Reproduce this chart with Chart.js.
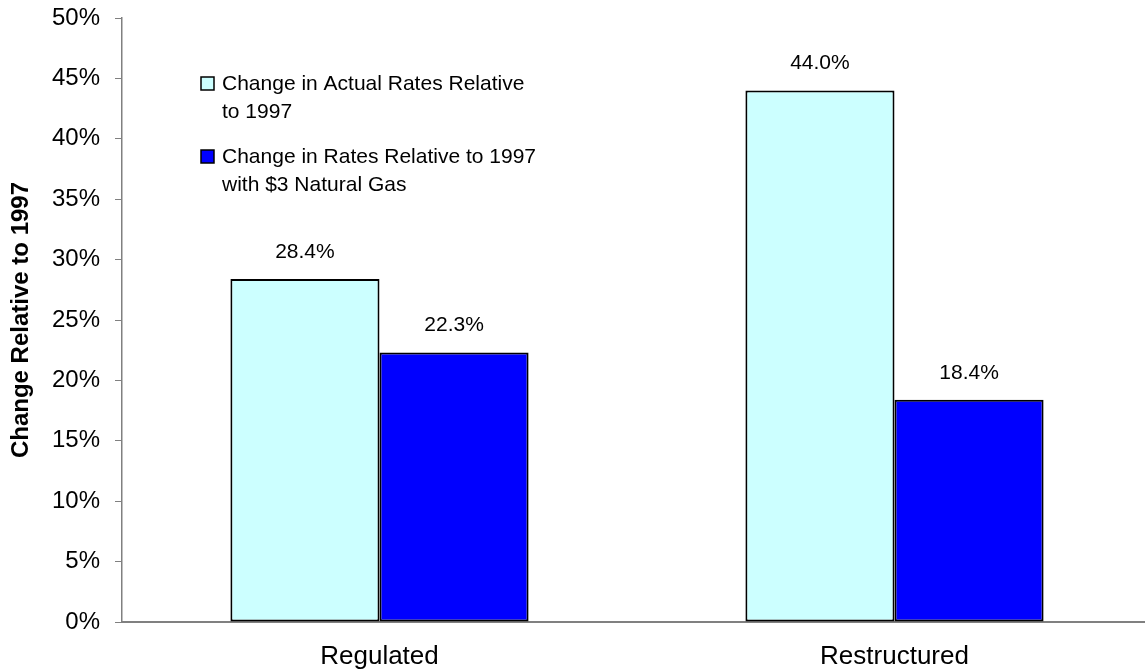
<!DOCTYPE html>
<html>
<head>
<meta charset="utf-8">
<script src="https://cdn.jsdelivr.net/npm/chart.js@4.4.1/dist/chart.umd.min.js"></script>
<style>
  html, body { margin: 0; padding: 0; background: #fff; overflow: hidden; }
  #wrap { width: 1152px; height: 670px; }
</style>
</head>
<body>
<div id="wrap"><canvas id="grafico"></canvas></div>
<script>
// datos del gráfico
const categorias = ['Regulated', 'Restructured'];
const cambioReal = [28.4, 44.0];
const cambioGas3 = [22.3, 18.4];
const etiquetasSerie = [
    ['Change in Actual Rates Relative', 'to 1997'],
    ['Change in Rates Relative to 1997', 'with $3 Natural Gas']
];
const ticksY = [0, 5, 10, 15, 20, 25, 30, 35, 40, 45, 50];

const fuente = 'Liberation Sans, Arial, sans-serif';

// etiquetas encima de cada barra
const etiquetasBarras = {
    id: 'etiquetasBarras',
    afterDatasetsDraw(chart) {
        const ctx = chart.ctx;
        ctx.save();
        ctx.font = '21px ' + fuente;
        ctx.fillStyle = '#000';
        ctx.textAlign = 'center';
        ctx.textBaseline = 'middle';
        chart.data.datasets.forEach((ds, i) => {
            chart.getDatasetMeta(i).data.forEach((bar, j) => {
                ctx.fillText(ds.data[j].toFixed(1) + '%', bar.x, bar.y - 27);
            });
        });
        ctx.restore();
    }
};

// leyenda con texto en dos líneas
const leyenda = {
    id: 'leyenda',
    afterDraw(chart) {
        const ctx = chart.ctx;
        ctx.save();
        ctx.font = '21px ' + fuente;
        ctx.textBaseline = 'middle';
        let y = 84;
        chart.data.datasets.forEach((ds) => {
            ctx.fillStyle = ds.backgroundColor;
            ctx.fillRect(201, y - 7, 13, 13);
            ctx.strokeStyle = '#000';
            ctx.lineWidth = 1.5;
            ctx.strokeRect(201, y - 7, 13, 13);
            ctx.fillStyle = '#000';
            ds.lineas.forEach((linea, k) => {
                ctx.fillText(linea, 222, y + k * 28);
            });
            y += 73;
        });
        ctx.restore();
    }
};

new Chart(document.getElementById('grafico'), {
    type: 'bar',
    data: {
        labels: categorias,
        datasets: [{
            label: etiquetasSerie[0].join(' '),
            lineas: etiquetasSerie[0],
            data: cambioReal,
            backgroundColor: '#CCFFFF',
            borderColor: '#000',
            borderWidth: 2,
            borderSkipped: false
        }, {
            label: etiquetasSerie[1].join(' '),
            lineas: etiquetasSerie[1],
            data: cambioGas3,
            backgroundColor: '#0000FF',
            borderColor: '#000',
            borderWidth: 2,
            borderSkipped: false
        }]
    },
    options: {
        responsive: true,
        maintainAspectRatio: false,
        animation: false,
        datasets: {
            bar: { categoryPercentage: 0.579, barPercentage: 1.0 }
        },
        layout: { padding: { top: 18, left: 0, right: 0, bottom: 0 } },
        plugins: {
            legend: { display: false },
            tooltip: { enabled: false }
        },
        scales: {
            x: {
                grid: { display: false, drawTicks: false },
                border: { color: '#808080', width: 2 },
                ticks: { color: '#000', font: { family: fuente, size: 26 }, padding: 19 },
                afterFit(scale) { scale.height = 48; }
            },
            y: {
                min: 0,
                max: 50,
                afterBuildTicks(scale) { scale.ticks = ticksY.map(v => ({ value: v })); },
                grid: { drawOnChartArea: false, drawTicks: true, tickLength: 7, color: '#808080' },
                border: { color: '#808080', width: 1.5 },
                ticks: {
                    color: '#000',
                    font: { family: fuente, size: 24 },
                    padding: 15,
                    callback: v => v + '%'
                },
                title: {
                    display: true,
                    text: 'Change Relative to 1997',
                    color: '#000',
                    font: { family: fuente, size: 24, weight: 'bold' },
                    padding: { top: 7, bottom: 0 }
                },
                afterFit(scale) {
                    scale.width = 122;
                    scale.paddingTop = 0;
                    scale.paddingBottom = 0;
                }
            }
        }
    },
    plugins: [etiquetasBarras, leyenda]
});
</script>
</body>
</html>
